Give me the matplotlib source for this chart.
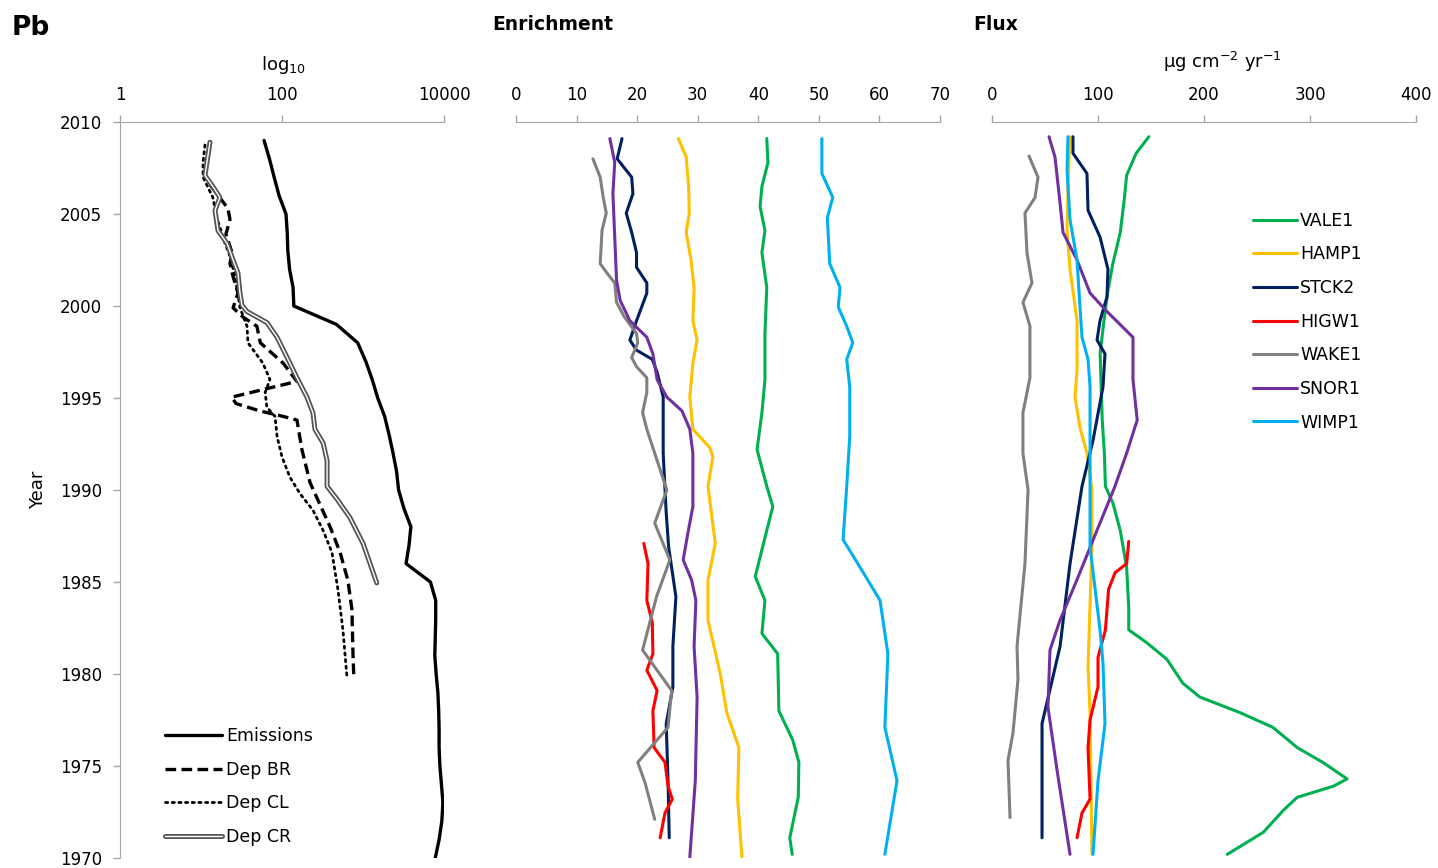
import matplotlib
matplotlib.use('Agg')
import matplotlib.pyplot as plt
import matplotlib.ticker as mticker
import matplotlib.patheffects as pe

plt.rcParams['font.family'] = ['DejaVu Sans']
plt.rcParams['mathtext.default'] = 'regular'
plt.rcParams['lines.solid_joinstyle'] = 'round'
plt.rcParams['lines.solid_capstyle'] = 'round'

# ---- left panel: emissions / deposition (log10)
emis_year = list(range(2009, 1969, -1))
emis = [60, 70, 80, 92, 112, 116, 118, 124, 137, 140,
        470, 860, 1080, 1300, 1520, 1850, 2100, 2350, 2600, 2750,
        3200, 3900, 3700, 3400, 6800, 7900, 7900, 7800, 7700, 8000,
        8400, 8600, 8700, 8700, 8900, 9300, 9700, 9400, 8700, 7800]

br_year = [2006.6, 2005.3, 2004.7, 2003.9, 2002.9, 2002.3, 2001.6, 2000.7, 1999.9, 1999.4,
           1998.9, 1998.0, 1996.9, 1995.9, 1995.05, 1994.7, 1994.3, 1994.0, 1993.8, 1992.2,
           1990.4, 1988.0, 1986.6, 1985.1, 1983.5, 1981.3, 1979.8]
br = [12.9, 21.5, 22.8, 20.3, 24.2, 22.8, 24.9, 28.6, 24.9, 33,
      49, 54, 103, 153, 24, 27, 53, 103, 153, 176,
      222, 392, 522, 650, 730, 750, 770]

cl_year = [2008.75, 2007.8, 2007.0, 2005.9, 2004.8, 2003.4, 2002.7, 2001.6, 1999.9, 1998.9,
           1998.0, 1996.9, 1996.0, 1995.3, 1994.5, 1994.0, 1992.9, 1991.8, 1990.7, 1989.8,
           1988.9, 1987.8, 1986.6, 1984.6, 1982.4, 1979.8]
cl = [11.2, 10.6, 10.6, 14, 15.7, 19.8, 22.8, 26.3, 30.3, 37,
      38, 58, 71, 62, 65, 82, 87, 100, 125, 167,
      241, 322, 414, 490, 565, 635]

cr_year = [2008.9, 2007.1, 2006.5, 2005.9, 2005.2, 2004.1, 2003.4, 2002.5, 2001.8, 2000.7,
           2000.05, 1999.7, 1999.1, 1998.3, 1996.9, 1996.1, 1995.05, 1994.2, 1993.3, 1992.55,
           1991.6, 1990.2, 1989.5, 1988.5, 1987.1, 1984.95]
cr = [12.9, 11.2, 14, 17.1, 14.9, 16.2, 21, 24.9, 28.6, 30.3,
      32, 37, 65, 87, 125, 153, 203, 241, 255, 322,
      360, 360, 478, 690, 1000, 1480]

# ---- middle panel: enrichment
enr_vale_year = [2009.1, 2007.8, 2006.5, 2005.4, 2004.1, 2002.9, 2001.0, 1998.5, 1996.0, 1994.2,
                 1992.2, 1990.2, 1989.1, 1987.8, 1985.3, 1984.0, 1982.2, 1981.1, 1978.0, 1976.4,
                 1975.2, 1973.3, 1971.1, 1970.2]
enr_vale = [41.4, 41.6, 40.6, 40.3, 41.1, 40.6, 41.4, 41.1, 41.1, 40.6,
            39.8, 41.4, 42.4, 41.4, 39.5, 41.1, 40.6, 43.2, 43.4, 45.7,
            46.7, 46.6, 45.2, 45.6]

enr_hamp_year = [2009.1, 2008.1, 2006.5, 2005.05, 2004.0, 2002.5, 2001.0, 1999.2, 1998.15, 1996.9,
                 1995.05, 1993.3, 1992.3, 1991.8, 1990.2, 1987.1, 1985.1, 1982.9, 1980.05, 1977.9,
                 1976.0, 1973.2, 1970.05]
enr_hamp = [26.8, 28.1, 28.5, 28.6, 28.1, 28.9, 29.4, 29.2, 29.9, 29.2,
            28.7, 29.2, 32.0, 32.5, 31.7, 32.9, 31.7, 31.7, 33.7, 34.8,
            36.8, 36.6, 37.3]

enr_stck_year = [2009.1, 2008.0, 2007.0, 2006.1, 2005.05, 2004.0, 2002.9, 2002.1, 2001.25, 2000.7,
                 1999.2, 1998.15, 1997.6, 1997.1, 1996.4, 1995.05, 1992.0, 1988.75, 1986.9, 1984.2,
                 1981.5, 1979.3, 1977.3, 1974.2, 1971.1]
enr_stck = [17.5, 16.7, 19.1, 19.3, 18.2, 19.1, 19.9, 19.9, 21.6, 21.6,
            19.9, 18.8, 19.9, 22.5, 23.3, 24.3, 24.3, 24.8, 25.2, 26.4,
            25.9, 25.9, 24.8, 25.1, 25.3]

enr_higw_year = [1987.1, 1986.0, 1984.0, 1982.8, 1981.1, 1980.2, 1979.1, 1978.0, 1976.0, 1975.2,
                 1973.9, 1973.2, 1972.45, 1971.1]
enr_higw = [21.1, 21.8, 21.6, 22.5, 22.6, 21.6, 23.3, 22.6, 22.8, 24.6,
            25.1, 25.8, 24.6, 23.8]

enr_wake_year = [2008.0, 2007.0, 2005.9, 2005.05, 2004.1, 2002.3, 2001.8, 2001.25, 2000.2, 1999.4,
                 1998.5, 1998.0, 1997.2, 1996.7, 1996.1, 1995.3, 1994.2, 1993.3, 1991.5, 1990.0,
                 1988.2, 1986.2, 1984.2, 1981.3, 1979.1, 1977.1, 1975.2, 1974.1, 1972.1]
enr_wake = [12.7, 13.9, 14.4, 14.9, 14.2, 13.9, 15.0, 16.3, 16.6, 17.9,
            19.9, 20.1, 19.1, 19.9, 21.6, 21.6, 20.9, 21.6, 23.4, 24.9,
            22.9, 25.4, 23.2, 20.9, 25.7, 25.1, 20.1, 21.3, 22.9]

enr_snor_year = [2009.1, 2007.8, 2006.1, 2003.75, 2001.4, 2000.3, 1999.2, 1998.3, 1997.4, 1996.0,
                 1995.05, 1994.3, 1993.3, 1992.0, 1989.1, 1987.7, 1986.2, 1985.1, 1984.0, 1981.5,
                 1978.75, 1974.2, 1970.05]
enr_snor = [15.5, 16.3, 16.0, 16.3, 16.6, 17.2, 18.8, 21.6, 22.6, 23.3,
            24.9, 27.4, 28.7, 29.2, 29.2, 28.4, 27.6, 29.0, 29.7, 29.4,
            29.9, 29.6, 28.7]

enr_wimp_year = [2009.1, 2007.2, 2005.9, 2004.8, 2002.3, 2001.0, 1999.95, 1998.9, 1998.0, 1997.1,
                 1995.6, 1992.9, 1990.2, 1987.3, 1985.8, 1984.0, 1981.1, 1977.1, 1974.2, 1970.2]
enr_wimp = [50.5, 50.5, 52.3, 51.4, 51.8, 53.5, 53.2, 54.6, 55.6, 54.6,
            55.1, 55.1, 54.6, 54.0, 56.8, 60.1, 61.4, 60.9, 62.9, 60.9]

# ---- right panel: flux (ug cm-2 yr-1)
flx_vale_year = [2009.2, 2008.3, 2007.1, 2005.9, 2004.0, 2002.3, 2000.7, 1998.9, 1997.4, 1993.8,
                 1992.0, 1990.2, 1989.3, 1987.8, 1985.8, 1983.6, 1982.4, 1981.7, 1980.8, 1979.5,
                 1978.75, 1977.9, 1977.1, 1976.0, 1975.2, 1974.3, 1973.9, 1973.3, 1972.6, 1971.4,
                 1970.2]
flx_vale = [148, 136, 127, 125, 121, 114, 109, 105, 102, 104,
            106, 107, 114, 121, 127, 129, 129, 146, 165, 180,
            196, 234, 265, 288, 312, 335, 322, 288, 275, 256,
            222]

flx_hamp_year = [2009.2, 2006.5, 2004.1, 2002.0, 1999.2, 1996.5, 1995.05, 1993.4, 1992.0, 1990.0,
                 1986.9, 1980.4, 1977.9, 1970.2]
flx_hamp = [73.6, 71.7, 70.8, 73.6, 80.2, 80.2, 78.3, 83.0, 89.6, 94.3,
            94.3, 90.6, 92.5, 94.3]

flx_stck_year = [2009.2, 2008.3, 2007.2, 2005.2, 2003.75, 2002.0, 2000.5, 1999.2, 1998.15, 1997.4,
                 1995.6, 1992.7, 1990.2, 1986.0, 1981.5, 1977.3, 1971.1]
flx_stck = [76.4, 76.4, 89.6, 90.6, 101.9, 109.4, 108.5, 101.9, 99.1, 106.6,
            104.7, 95.3, 84.9, 73.6, 64.2, 47.2, 47.2]

flx_higw_year = [1987.2, 1986.0, 1985.5, 1984.6, 1982.4, 1980.9, 1979.3, 1977.5, 1976.0, 1973.2,
                 1972.45, 1971.1]
flx_higw = [129, 127, 116, 110, 107, 100, 100, 92.5, 90.6, 92.5,
            84.9, 80.2]

flx_wake_year = [2008.15, 2007.0, 2005.9, 2005.05, 2002.9, 2001.25, 2000.2, 1998.9, 1996.1, 1994.2,
                 1992.0, 1990.0, 1986.0, 1981.5, 1979.7, 1976.8, 1975.3, 1972.2]
flx_wake = [34.9, 43.4, 40.6, 31.1, 33.0, 37.7, 29.2, 35.8, 35.8, 29.2,
            29.2, 34.0, 31.1, 23.6, 24.5, 19.8, 15.1, 17.0]

flx_snor_year = [2009.2, 2008.1, 2005.6, 2004.0, 2002.5, 2000.7, 1999.7, 1998.3, 1996.0, 1993.8,
                 1992.0, 1990.2, 1987.8, 1985.1, 1982.9, 1981.3, 1978.2, 1974.8, 1970.2]
flx_snor = [53.8, 59.4, 64.2, 67.0, 80.2, 92.5, 108.5, 133, 133, 137,
            127, 116, 99, 80, 64, 54.7, 52.8, 61.3, 73.6]

flx_wimp_year = [2009.2, 2007.4, 2004.7, 2002.5, 1999.95, 1998.3, 1997.1, 1995.6, 1990.2, 1986.9,
                 1982.4, 1980.6, 1977.3, 1974.2, 1970.2]
flx_wimp = [71.7, 70.8, 73.6, 80.2, 83, 84.9, 90.6, 92.5, 92.5, 92.5,
            101.9, 104.7, 106.6, 100, 95.3]

sites = ['VALE1', 'HAMP1', 'STCK2', 'HIGW1', 'WAKE1', 'SNOR1', 'WIMP1']
colors = ['#00B050', '#FFC000', '#002060', '#FF0000', '#808080', '#7030A0', '#00B0F0']

enr = [(enr_vale_year, enr_vale), (enr_hamp_year, enr_hamp), (enr_stck_year, enr_stck),
       (enr_higw_year, enr_higw), (enr_wake_year, enr_wake), (enr_snor_year, enr_snor),
       (enr_wimp_year, enr_wimp)]
flx = [(flx_vale_year, flx_vale), (flx_hamp_year, flx_hamp), (flx_stck_year, flx_stck),
       (flx_higw_year, flx_higw), (flx_wake_year, flx_wake), (flx_snor_year, flx_snor),
       (flx_wimp_year, flx_wimp)]

W, H = 1438, 868
fig = plt.figure(figsize=(W / 100, H / 100), dpi=100)

def px_axes(x0, x1, y0=122, y1=858):
    return fig.add_axes([x0 / W, 1 - y1 / H, (x1 - x0) / W, (y1 - y0) / H])

ax1 = px_axes(120, 444)
ax2 = px_axes(516, 940)
ax3 = px_axes(992, 1416)

spine_col = '#A6A6A6'
for ax in (ax1, ax2, ax3):
    ax.set_ylim(1970, 2010)
    ax.xaxis.tick_top()
    for s in ('bottom', 'right', 'left'):
        ax.spines[s].set_visible(False)
    ax.spines['top'].set_color(spine_col)
    ax.tick_params(axis='x', which='major', direction='out', length=5, width=1,
                   color=spine_col, labelsize=12, pad=8)
    ax.tick_params(axis='x', which='minor', length=0)

ax1.spines['left'].set_visible(True)
ax1.spines['left'].set_color(spine_col)
ax1.set_yticks(range(1970, 2011, 5))
ax1.tick_params(axis='y', direction='out', length=5, width=1, color=spine_col,
                labelsize=12, pad=8)
ax2.set_yticks([])
ax3.set_yticks([])

# left panel
ax1.set_xscale('log')
ax1.set_xlim(1, 10000)
ax1.xaxis.set_major_locator(mticker.FixedLocator([1, 100, 10000]))
ax1.xaxis.set_major_formatter(mticker.FixedFormatter(['1', '100', '10000']))
ax1.xaxis.set_minor_locator(mticker.NullLocator())

ax1.plot(emis, emis_year, color='black', lw=2.4, label='Emissions')
ax1.plot(br, br_year, color='black', lw=2.4, ls=(0, (3.2, 1.6)), label='Dep BR')
ax1.plot(cl, cl_year, color='black', lw=2.0, ls=(0, (0.8, 1.6)), dash_capstyle='round',
         label='Dep CL')
ax1.plot(cr, cr_year, color='white', lw=1.0, label='Dep CR',
         path_effects=[pe.Stroke(linewidth=3.6, foreground='#555555'), pe.Normal()])

ax1.legend(loc='upper left', bbox_to_anchor=(0.139, 0.178), frameon=False, fontsize=12.5,
           handlelength=3.3, handletextpad=0.2, labelspacing=0.9, borderpad=0,
           borderaxespad=0)

# middle panel
ax2.set_xlim(0, 70)
ax2.set_xticks(range(0, 71, 10))
for (yr, v), c in zip(enr, colors):
    ax2.plot(v, yr, color=c, lw=2.2)

# right panel
ax3.set_xlim(0, 400)
ax3.set_xticks(range(0, 401, 100))
for (yr, v), c, s in zip(flx, colors, sites):
    ax3.plot(v, yr, color=c, lw=2.2, label=s)
ax3.legend(loc='upper left', bbox_to_anchor=(0.616, 0.878), frameon=False, fontsize=12.5,
           handlelength=2.5, handletextpad=0.2, labelspacing=0.9, borderpad=0,
           borderaxespad=0)

# texts
fig.text(12 / W, 1 - 28 / H, 'Pb', fontsize=19, fontweight='bold', va='center', ha='left')
fig.text(492 / W, 1 - 25 / H, 'Enrichment', fontsize=13.5, fontweight='bold', va='center', ha='left')
fig.text(973 / W, 1 - 25 / H, 'Flux', fontsize=13.5, fontweight='bold', va='center', ha='left')
fig.text(283 / W, 1 - 65 / H, 'log$_{10}$', fontsize=13, va='center', ha='center')
fig.text(1222 / W, 1 - 62 / H, 'µg cm$^{-2}$ yr$^{-1}$', fontsize=13, va='center', ha='center')
fig.text(38 / W, 1 - 490 / H, 'Year', fontsize=13, va='center', ha='center', rotation=90)

fig.savefig('out.png', dpi=100)
